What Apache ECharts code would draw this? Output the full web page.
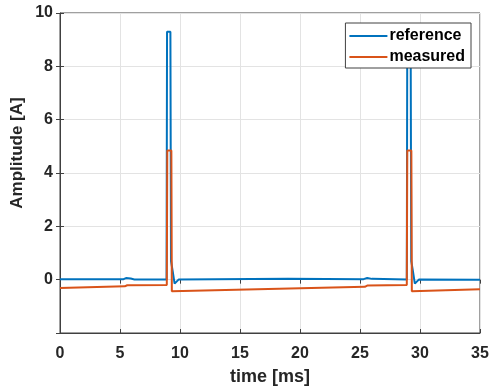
<!DOCTYPE html>
<html><head><meta charset="utf-8">
<script src="https://cdn.jsdelivr.net/npm/echarts@6/dist/echarts.min.js"></script>
<style>html,body{margin:0;padding:0;background:#fff}#c{width:492px;height:391px}</style>
</head><body><div id="c"></div>
<script>
const seriesNames = ['reference', 'measured'];
const xTicks = [0, 5, 10, 15, 20, 25, 30, 35];
const yTicks = [0, 2, 4, 6, 8, 10];
const xLabel = 'time [ms]';
const yLabel = 'Amplitude [A]';
// [time ms, amplitude A]
const referenceData = [
  [0,0.02],[5.3,0.02],[5.5,0.06],[5.9,0.04],[6.2,0.01],[8.88,0.01],[8.92,9.3],[9.2,9.3],
  [9.25,0.7],[9.38,0.35],[9.55,-0.15],[9.7,-0.08],[9.9,0.01],[19,0.03],[25.3,0.02],
  [25.6,0.06],[26,0.03],[28.9,0.01],[28.94,9.3],[29.22,9.3],[29.27,0.7],[29.4,0.35],
  [29.57,-0.15],[29.72,-0.08],[29.92,0.01],[35,0.0]
];
const measuredData = [
  [0,-0.31],[5.4,-0.25],[5.6,-0.21],[8.9,-0.2],[8.94,4.84],[9.28,4.84],[9.32,-0.43],
  [25.4,-0.27],[25.6,-0.22],[28.9,-0.2],[28.94,4.84],[29.28,4.84],[29.32,-0.43],[35,-0.36]
];
const colors = ['#0072BD', '#D95319'];

const chart = echarts.init(document.getElementById('c'), null, {renderer: 'canvas'});
const font = 'Liberation Sans, Arial, Helvetica, sans-serif';
const axisCol = '#404040';
const txtCol = '#262626';
chart.setOption({
  animation: false,
  backgroundColor: '#fff',
  grid: {left: 60, right: 12, top: 13, bottom: 58, show: true, borderColor: axisCol, borderWidth: 1, backgroundColor: 'transparent'},
  legend: {
    data: seriesNames, orient: 'vertical', right: 21, top: 23,
    backgroundColor: '#fff', borderColor: axisCol, borderWidth: 1,
    padding: [5, 6, 3, 4], itemGap: 5, itemWidth: 38, itemHeight: 2,
    icon: 'rect',
    textStyle: {fontFamily: font, fontWeight: 'bold', fontSize: 16, color: '#000', padding: [0,0,0,-3]}
  },
  graphic: [{
    type: 'text', x: 17, y: 153, rotation: Math.PI / 2,
    style: {text: yLabel, font: 'bold 17px ' + font, fill: txtCol, align: 'center', verticalAlign: 'middle'}
  }],
  xAxis: [{
    type: 'value', min: 0, max: 35, interval: 5,
    name: xLabel, nameLocation: 'middle', nameGap: 35,
    nameTextStyle: {fontFamily: font, fontWeight: 'bold', fontSize: 18, color: txtCol},
    axisLine: {show: true, onZero: false, lineStyle: {color: axisCol}},
    axisTick: {show: true, inside: true, length: 4, lineStyle: {color: axisCol}},
    axisLabel: {fontFamily: font, fontWeight: 'bold', fontSize: 16, color: txtCol, margin: 13,
      formatter: v => xTicks.includes(v) ? String(v) : ''},
    splitLine: {show: true, lineStyle: {color: '#e3e3e3'}}
  }, {
    type: 'value', min: 0, max: 35, interval: 5, position: 'top',
    axisLine: {show: false}, axisLabel: {show: false}, splitLine: {show: false},
    axisTick: {show: true, inside: true, length: 4, lineStyle: {color: axisCol}}
  }],
  yAxis: [{
    type: 'value', min: -2, max: 10, interval: 2,
    axisLine: {show: true, onZero: false, lineStyle: {color: axisCol}},
    axisTick: {show: true, inside: true, length: 4, lineStyle: {color: axisCol}},
    axisLabel: {fontFamily: font, fontWeight: 'bold', fontSize: 16, color: txtCol, margin: 7,
      formatter: v => yTicks.includes(v) ? String(v) : ''},
    splitLine: {show: true, lineStyle: {color: '#e3e3e3'}}
  }, {
    type: 'value', min: -2, max: 10, interval: 2, position: 'right',
    axisLine: {show: false}, axisLabel: {show: false}, splitLine: {show: false},
    axisTick: {show: true, inside: true, length: 4, lineStyle: {color: axisCol}}
  }],
  series: [
    {name: seriesNames[0], type: 'line', data: referenceData, showSymbol: false, symbol: 'none',
     lineStyle: {color: colors[0], width: 2}, itemStyle: {color: colors[0]}, z: 2},
    {name: seriesNames[1], type: 'line', data: measuredData, showSymbol: false, symbol: 'none',
     lineStyle: {color: colors[1], width: 2}, itemStyle: {color: colors[1]}, z: 3}
  ]
});
</script></body></html>
